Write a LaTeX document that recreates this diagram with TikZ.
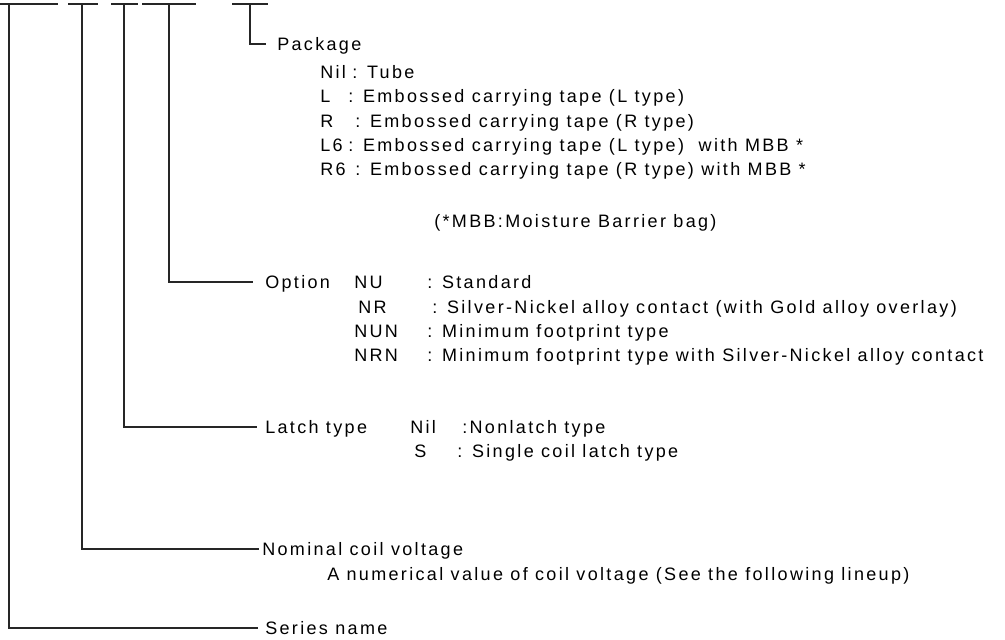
\documentclass[tikz,border=0pt]{standalone}
\usepackage{fontspec}
\setmainfont{Liberation Sans}[LetterSpace=13]
\usetikzlibrary{positioning}

\begin{document}
\begin{tikzpicture}[
  x=0.75pt, y=-0.75pt, font=\fontsize{13.5}{16}\selectfont,
  lbl/.style={anchor=west, inner sep=0pt, text height=9.75pt, text depth=0pt},
  lead/.style={draw=black!85, line width=0.9pt}]
\useasboundingbox (0,0) rectangle (1005,639);
% digits of the part number
\draw[lead] (0,4) -- (58,4);   \coordinate (d1) at (9,4);
\draw[lead] (68,4) -- (98,4);  \coordinate (d2) at (82,4);
\draw[lead] (111,4) -- (138,4); \coordinate (d3) at (124,4);
\draw[lead] (142,4) -- (196,4); \coordinate (d4) at (169,4);
\draw[lead] (232,4) -- (268,4); \coordinate (d5) at (250,4);
% package
\node[lbl] (pkg) at (277,44) {Package};
\node[lbl] (pk1) at (320,72) {Nil};  \node[lbl] (pk1t) at (352,72) {: Tube};
\node[lbl] (pk2) at (320,96) {L};    \node[lbl] (pk2t) at (348,96) {: Embossed carrying tape (L type)};
\node[lbl] (pk3) at (320,121) {R};   \node[lbl] (pk3t) at (355,121) {: Embossed carrying tape (R type)};
\node[lbl] (pk4) at (320,145) {L6};  \node[lbl] (pk4t) at (348,145) {: Embossed carrying tape (L type)\ \ with MBB *};
\node[lbl] (pk5) at (320,169) {R6};  \node[lbl] (pk5t) at (355,169) {: Embossed carrying tape (R type) with MBB *};
\node[lbl] (mbb) at (434,221) {(*MBB:Moisture Barrier bag)};
% option
\node[lbl] (opt) at (265,282) {Option};
\node[lbl] (op1) at (354,282) {NU};  \node[lbl] (op1t) at (427,282) {: Standard};
\node[lbl] (op2) at (358,307) {NR};  \node[lbl] (op2t) at (432,307) {: Silver-Nickel alloy contact (with Gold alloy overlay)};
\node[lbl] (op3) at (354,331) {NUN}; \node[lbl] (op3t) at (427,331) {: Minimum footprint type};
\node[lbl] (op4) at (354,355) {NRN}; \node[lbl] (op4t) at (427,355) {: Minimum footprint type with Silver-Nickel alloy contact};
% latch
\node[lbl] (latch) at (265,427) {Latch type};
\node[lbl] (la1) at (410,427) {Nil}; \node[lbl] (la1t) at (462,427) {:Nonlatch type};
\node[lbl] (la2) at (414,451) {S};   \node[lbl] (la2t) at (457,451) {: Single coil latch type};
% coil voltage, series
\node[lbl] (volt) at (262,549) {Nominal coil voltage};
\node[lbl] (voltt) at (327,574) {A numerical value of coil voltage (See the following lineup)};
\node[lbl] (series) at (265,628) {Series name};

\draw[lead] (d5) |- ([xshift=-8pt]pkg.west);
\draw[lead] (d4) |- ([xshift=-9pt]opt.west);
\draw[lead] (d3) |- ([xshift=-6pt]latch.west);
\draw[lead] (d2) |- ([xshift=-2pt]volt.west);
\draw[lead] (d1) |- ([xshift=-5pt]series.west);
\end{tikzpicture}
\end{document}
